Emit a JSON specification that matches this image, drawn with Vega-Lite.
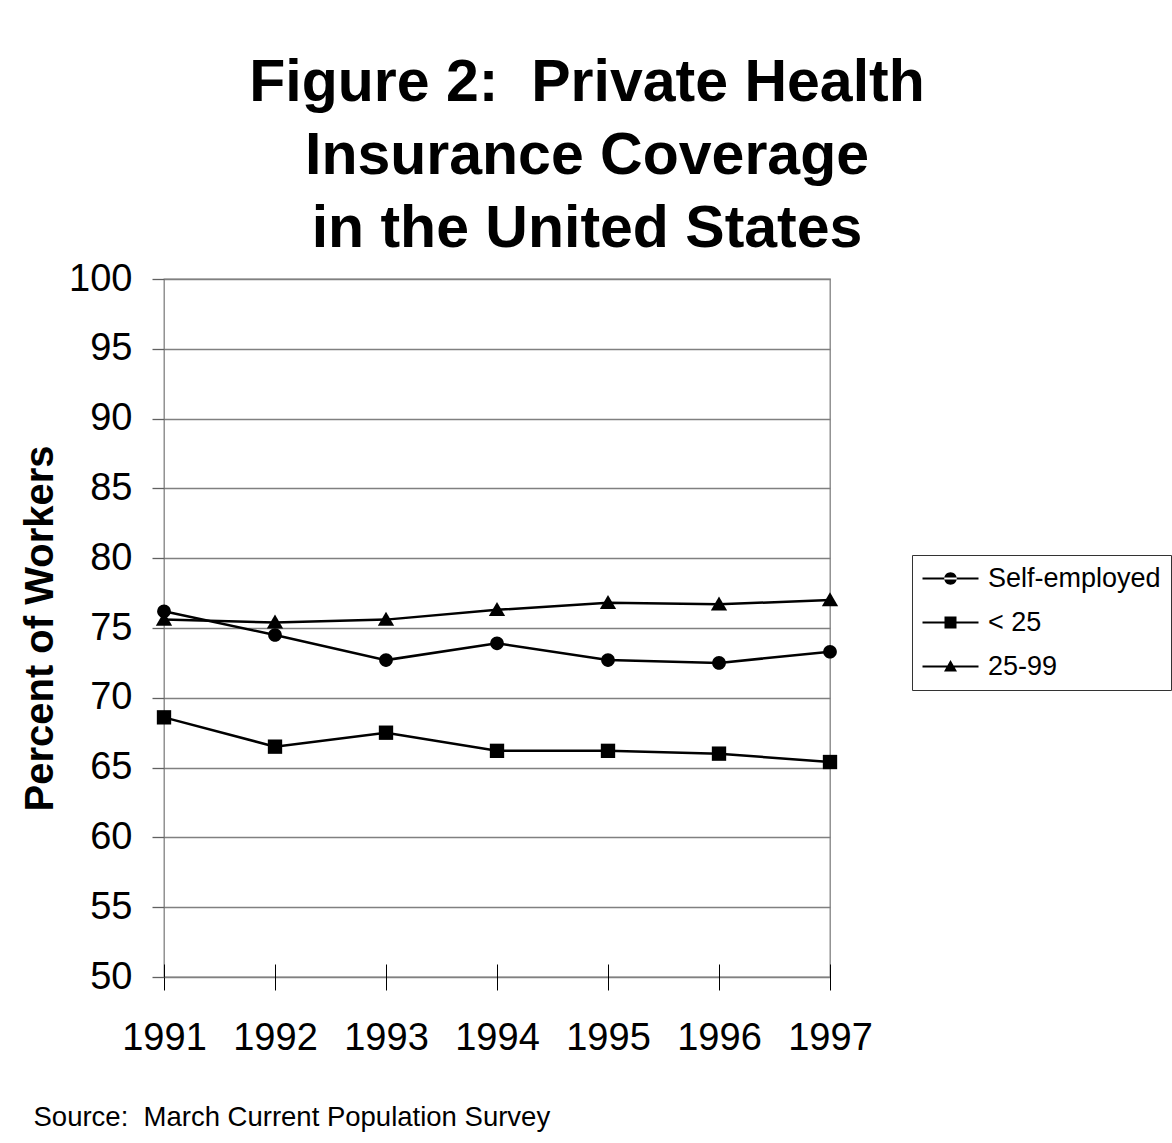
{
  "$schema": "https://vega.github.io/schema/vega-lite/v6.json",
  "width": 666,
  "height": 698,
  "autosize": {"type": "none"},
  "padding": {"left": 164, "top": 279, "right": 342, "bottom": 166},
  "background": "white",
  "config": {
    "font": "Liberation Sans",
    "view": {"stroke": "#808080", "strokeWidth": 1.3}
  },
  "title": {
    "text": ["Figure 2:\u00a0 Private Health", "Insurance Coverage", "\u00a0in the United States"],
    "fontSize": 59,
    "fontWeight": "bold",
    "font": "Liberation Sans",
    "color": "black",
    "lineHeight": 73,
    "anchor": "middle",
    "baseline": "alphabetic",
    "dx": 90,
    "dy": 56,
    "offset": 10
  },
  "data": {
    "values": [
      {"year": "1991", "series": "Self-employed", "value": 76.2},
      {"year": "1992", "series": "Self-employed", "value": 74.5},
      {"year": "1993", "series": "Self-employed", "value": 72.7},
      {"year": "1994", "series": "Self-employed", "value": 73.9},
      {"year": "1995", "series": "Self-employed", "value": 72.7},
      {"year": "1996", "series": "Self-employed", "value": 72.5},
      {"year": "1997", "series": "Self-employed", "value": 73.3},
      {"year": "1991", "series": "< 25", "value": 68.6},
      {"year": "1992", "series": "< 25", "value": 66.5},
      {"year": "1993", "series": "< 25", "value": 67.5},
      {"year": "1994", "series": "< 25", "value": 66.2},
      {"year": "1995", "series": "< 25", "value": 66.2},
      {"year": "1996", "series": "< 25", "value": 66.0},
      {"year": "1997", "series": "< 25", "value": 65.4},
      {"year": "1991", "series": "25-99", "value": 75.6},
      {"year": "1992", "series": "25-99", "value": 75.4},
      {"year": "1993", "series": "25-99", "value": 75.6},
      {"year": "1994", "series": "25-99", "value": 76.3},
      {"year": "1995", "series": "25-99", "value": 76.8},
      {"year": "1996", "series": "25-99", "value": 76.7},
      {"year": "1997", "series": "25-99", "value": 77.0}
    ]
  },
  "encoding": {
    "x": {
      "field": "year",
      "type": "ordinal",
      "scale": {"type": "point", "padding": 0},
      "axis": {
        "labelAngle": 0,
        "labelFontSize": 38,
        "labelColor": "black",
        "labelBaseline": "top",
        "labelPadding": 29,
        "domain": false,
        "ticks": true,
        "tickColor": "black",
        "tickSize": 26,
        "tickWidth": 1,
        "offset": -13,
        "grid": false,
        "title": "Source:\u00a0 March Current Population Survey",
        "titleFontSize": 27.5,
        "titleFontWeight": "normal",
        "titleColor": "black",
        "titleAlign": "left",
        "titleBaseline": "alphabetic",
        "titleX": -131,
        "titleY": 161
      }
    },
    "y": {
      "field": "value",
      "type": "quantitative",
      "scale": {"domain": [50, 100], "nice": false, "zero": false},
      "axis": {
        "values": [50, 55, 60, 65, 70, 75, 80, 85, 90, 95, 100],
        "labelFontSize": 38,
        "labelColor": "black",
        "labelPadding": 20,
        "domain": false,
        "tickColor": "#606060",
        "tickSize": 12,
        "tickWidth": 1.3,
        "grid": true,
        "gridColor": "#808080",
        "gridWidth": 1.3,
        "gridOpacity": 1,
        "title": "Percent of Workers",
        "titleFontSize": 40,
        "titleFontWeight": "bold",
        "titleColor": "black",
        "titleAngle": -90,
        "titleAlign": "center",
        "titleBaseline": "alphabetic",
        "titleX": -112,
        "titleY": 349
      }
    }
  },
  "layer": [
    {
      "mark": {"type": "line", "color": "black", "strokeWidth": 2.5},
      "encoding": {"detail": {"field": "series"}}
    },
    {
      "mark": {"type": "point", "filled": true, "color": "black", "opacity": 1, "size": 170},
      "encoding": {
        "shape": {
          "field": "series",
          "type": "nominal",
          "scale": {
            "domain": ["Self-employed", "< 25", "25-99"],
            "range": [
              "M-1.05,0A1.05,1.05,0,1,0,1.05,0A1.05,1.05,0,1,0,-1.05,0Z",
              "M-1.1,-1.1L1.1,-1.1L1.1,1.1L-1.1,1.1Z",
              "M0,-1.2L1.25,0.95L-1.25,0.95Z"
            ]
          },
          "legend": null
        }
      }
    },
    {
      "mark": {"type": "point", "filled": true, "color": "black", "opacity": 0, "size": 100},
      "encoding": {
        "shape": {
          "field": "series",
          "type": "nominal",
          "scale": {
            "domain": ["Self-employed", "< 25", "25-99"],
            "range": [
              "M-5.6,-0.2L5.6,-0.2L5.6,0.2L-5.6,0.2ZM-1.25,0A1.25,1.25,0,1,0,1.25,0A1.25,1.25,0,1,0,-1.25,0Z",
              "M-5.6,-0.2L5.6,-0.2L5.6,0.2L-5.6,0.2ZM-1.2,-1.2L1.2,-1.2L1.2,1.2L-1.2,1.2Z",
              "M-5.6,-0.2L5.6,-0.2L5.6,0.2L-5.6,0.2ZM0,-1.3L1.3,1.0L-1.3,1.0Z"
            ]
          },
          "legend": {
            "title": null,
            "orient": "none",
            "legendX": 748,
            "legendY": 276,
            "padding": 10,
            "strokeColor": "#333333",
            "fillColor": "white",
            "labelFontSize": 27,
            "labelColor": "black",
            "labelLimit": 400,
            "symbolSize": 100,
            "symbolOffset": 15,
            "labelOffset": 24,
            "rowPadding": 16,
            "symbolFillColor": "black",
            "symbolStrokeWidth": 0,
            "encode": {
              "symbols": {
                "update": {
                  "fill": {"value": "black"},
                  "opacity": {"value": 1},
                  "fillOpacity": {"value": 1},
                  "strokeWidth": {"value": 0}
                }
              }
            }
          }
        }
      }
    }
  ],
  "resolve": {"scale": {"shape": "independent"}, "legend": {"shape": "independent"}}
}
